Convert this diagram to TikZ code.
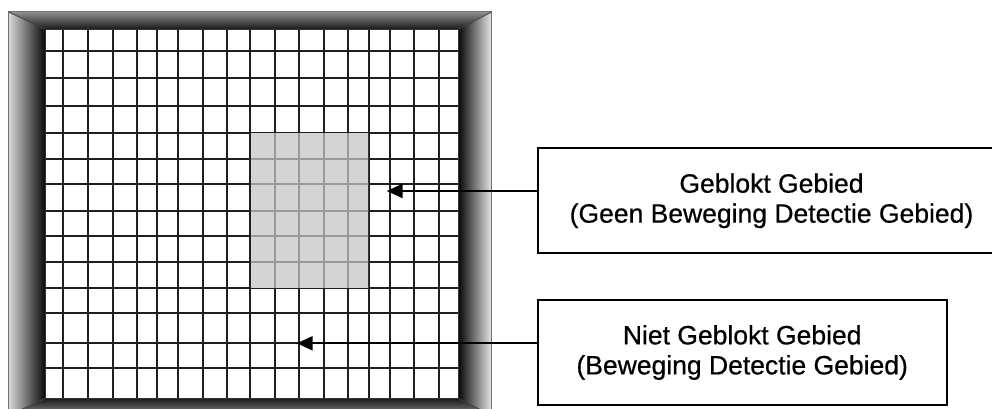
\documentclass[tikz,border=0pt]{standalone}
\usepackage{fontspec}
\setmainfont{Liberation Sans}
\newfontfamily\boxfont[FakeBold=0.6]{Liberation Sans}
\usetikzlibrary{arrows.meta}
\tikzset{
  gridline/.style={line width=2pt, draw=black!88},
  softline/.style={line width=2pt, draw=black!40},
  infobox/.style={draw=black, line width=2pt, fill=white, align=center,
    font=\boxfont\fontsize{26.5}{30}\selectfont, inner sep=0pt},
  arr/.style={line width=2.2pt, draw=black, -{Triangle[length=16pt,width=14pt]}}
}
\begin{document}
\begin{tikzpicture}[x=1pt,y=-1pt]
\useasboundingbox (0,0) rectangle (992,409);
\fill[white] (0,0) rectangle (992,409);
\clip (0,0) rectangle (992,409);
% frame corners
\coordinate (OTL) at (8.5,12);
\coordinate (OTR) at (491.5,12);
\coordinate (OBR) at (491.5,415.5);
\coordinate (OBL) at (8.5,415.5);
\coordinate (ITL) at (45.5,29.3);
\coordinate (ITR) at (458.3,29.3);
\coordinate (IBR) at (458.3,398.3);
\coordinate (IBL) at (45.5,398.3);
% top bevel
\begin{scope}
  \clip (OTL) -- (OTR) -- (ITR) -- (ITL) -- cycle;
  \shade[top color=black!45, middle color=black!28, bottom color=black!90] (8.5,12) rectangle (491.5,29.3);
\end{scope}
% bottom bevel
\begin{scope}
  \clip (IBL) -- (IBR) -- (OBR) -- (OBL) -- cycle;
  \shade[top color=black!90, bottom color=black!45] (8.5,398.3) rectangle (491.5,415.5);
\end{scope}
% left bevel
\begin{scope}
  \clip (OTL) -- (ITL) -- (IBL) -- (OBL) -- cycle;
  \shade[left color=black!15, right color=black!97] (8.5,12) rectangle (45.5,415.5);
\end{scope}
% right bevel
\begin{scope}
  \clip (OTR) -- (OBR) -- (IBR) -- (ITR) -- cycle;
  \shade[left color=black!97, right color=black!10] (458.3,12) rectangle (491.5,415.5);
\end{scope}
\draw[black!55, line width=1pt] (OTL) rectangle (OBR);
\draw[black!75, line width=0.8pt] (OTL) -- (ITL) (OTR) -- (ITR) (OBR) -- (IBR) (OBL) -- (IBL);
% inner area
\fill[white] (ITL) rectangle (IBR);
\foreach \gx in {63.3,87.7,112.7,136.7,157.3,178,202.7,226.7,250,275,299.3,324,348.3,369,390,414,438.7}
  \draw[gridline] (\gx,29.3) -- (\gx,398.3);
\foreach \gy in {51,78.3,106,132.7,159.3,184.3,210.7,236,261.7,288.3,313.3,343.3,368.3}
  \draw[gridline] (45.5,\gy) -- (458.3,\gy);
% blocked region
\begin{scope}
  \clip (251,133.7) rectangle (368,287.3);
  \fill[black!17] (250,132.7) rectangle (369,288.3);
  \foreach \gx in {275,299.3,324,348.3}
    \draw[softline] (\gx,132.7) -- (\gx,288.3);
  \foreach \gy in {159.3,184.3,210.7,236,261.7}
    \draw[softline] (250,\gy) -- (369,\gy);
\end{scope}
\draw[black!80, line width=1.2pt] (ITL) rectangle (IBR);
% label boxes
\node[infobox, minimum width=468pt, minimum height=105pt] (box1) at (771.5,200.8)
  {Geblokt Gebied\\(Geen Beweging Detectie Gebied)};
\node[infobox, minimum width=409pt, minimum height=105pt] (box2) at (742.2,352.5)
  {Niet Geblokt Gebied\\(Beweging Detectie Gebied)};
\coordinate (tip1) at (386.7,191);
\coordinate (tip2) at (296.7,343.3);
\draw[arr] (box1.west |- tip1) -- (tip1);
\draw[arr] (box2.west |- tip2) -- (tip2);
\end{tikzpicture}
\end{document}
